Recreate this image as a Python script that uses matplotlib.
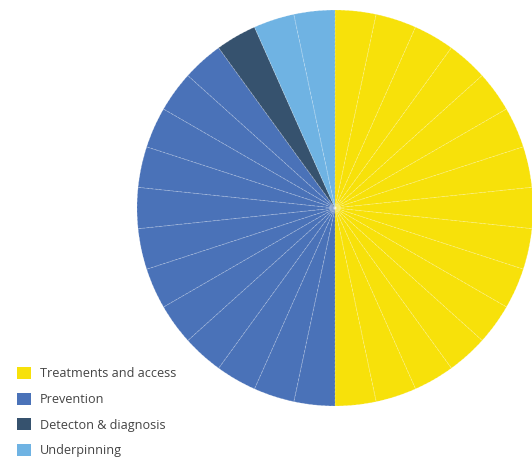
import matplotlib
matplotlib.use("Agg")
import matplotlib.pyplot as plt
from matplotlib.patches import Patch

groups = ["Treatments and access", "Prevention", "Detecton & diagnosis", "Underpinning"]
group_colors = ["#F7E10A", "#4A72B8", "#36526E", "#6FB3E3"]
# number of equal-weight items in each group (clockwise from top)
group_counts = [15, 12, 1, 2]
item_value = 1

values = []
colors = []
for g, n in enumerate(group_counts):
    values += [item_value] * n
    colors += [group_colors[g]] * n

fig = plt.figure(figsize=(5.32, 4.57), dpi=100)
cx, cy, r = 335, 457 - 208, 198
ax = fig.add_axes([(cx - r) / 532, (cy - r) / 457, 2 * r / 532, 2 * r / 457])
ax.pie(values, colors=colors, startangle=90, counterclock=False, radius=1,
       wedgeprops=dict(edgecolor=(1, 1, 1, 0.28), linewidth=0.6, linestyle=(0, (3, 2))))
ax.set_xlim(-1.0, 1.0)
ax.set_ylim(-1.0, 1.0)
ax.axis("off")

handles = [Patch(facecolor=c, edgecolor="none") for c in group_colors]
fig.legend(handles, groups, loc="upper left", bbox_to_anchor=(17 / 532, (457 - 367) / 457),
           frameon=False, prop=dict(family="Open Sans", size=9.1), labelcolor="#444444",
           handlelength=1.1, handleheight=1.1, handletextpad=0.72, labelspacing=0.97,
           borderpad=0, borderaxespad=0)

fig.savefig("out.png", dpi=100)
